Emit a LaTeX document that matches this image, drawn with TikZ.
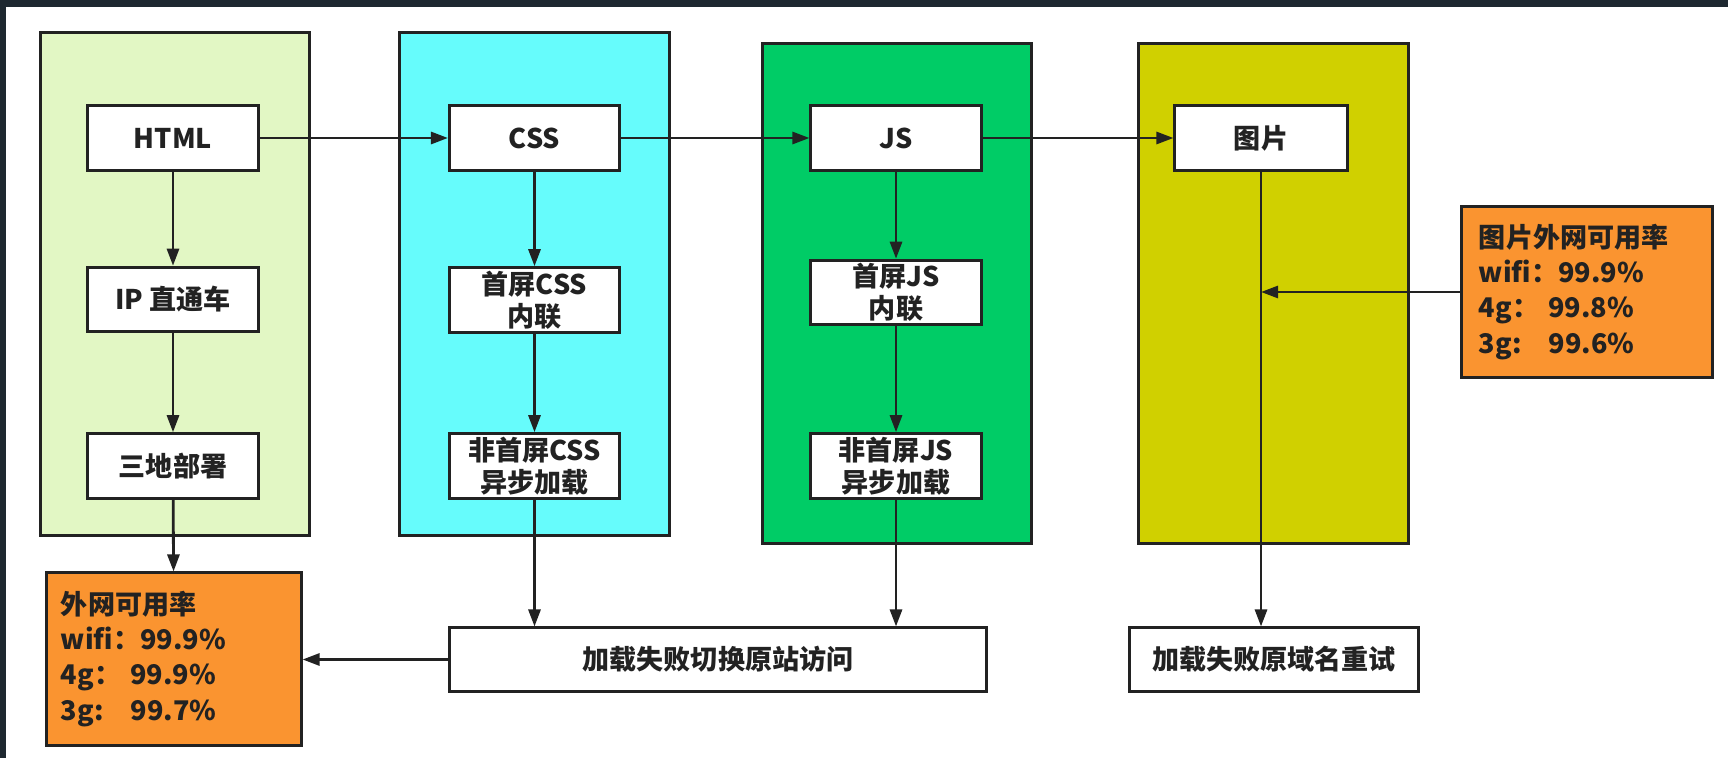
\documentclass[tikz,border=0pt]{standalone}
\usepackage{fontspec}
\setmainfont{Noto Sans CJK SC}
\usetikzlibrary{arrows.meta}

\definecolor{frame}{HTML}{1E2830}
\definecolor{lime}{HTML}{E2F7C4}
\definecolor{aqua}{HTML}{66FCFC}
\definecolor{leaf}{HTML}{00CC66}
\definecolor{olive}{HTML}{D0D000}
\definecolor{amber}{HTML}{FA9430}
\definecolor{ink}{HTML}{222222}

\tikzset{
  lane/.style={draw=ink, line width=0.85pt, minimum width=2.68cm, minimum height=5.02cm, inner sep=0pt},
  stepbox/.style={draw=ink, fill=white, line width=0.85pt, minimum width=1.70cm, minimum height=0.645cm,
    inner sep=0pt, align=center, text=ink, font=\bfseries\fontsize{7.7}{9.2}\selectfont},
  widebox/.style={stepbox, minimum height=0.63cm},
  ratebox/.style={draw=ink, fill=amber, line width=0.85pt, inner sep=0pt, align=left, text=ink,
    font=\bfseries\fontsize{7.7}{10}\selectfont},
  flow/.style={draw=ink, line width=0.8pt, -{Triangle[length=0.17cm, width=0.12cm]}},
}

\begin{document}
\begin{tikzpicture}[x=0.01cm, y=-0.01cm]
  \useasboundingbox (0,0) rectangle (1728,758);
  \fill[white] (0,0) rectangle (1728,758);
  \fill[frame] (0,0) rectangle (1728,7);
  \fill[frame] (0,0) rectangle (6,758);

  % four lanes
  \node[lane, fill=lime] (laneA) at (175,284) {};
  \node[lane, fill=aqua, minimum width=2.69cm] (laneB) at (534.5,284) {};
  \node[lane, fill=leaf, minimum height=4.99cm] (laneC) at (897,293.5) {};
  \node[lane, fill=olive, minimum width=2.69cm, minimum height=4.99cm] (laneD) at (1273.5,293.5) {};

  % HTML lane
  \node[stepbox] (html) at (173,138) {HTML};
  \node[stepbox] (ip) at (173,299.5) {IP 直通车};
  \node[stepbox] (deploy) at (173,466) {三地部署};

  % CSS lane
  \node[stepbox] (css) at (534.5,138) {CSS};
  \node[stepbox] (cssfirst) at (534.5,300) {首屏CSS\\内联};
  \node[stepbox] (cssrest) at (534.5,466) {非首屏CSS\\异步加载};

  % JS lane
  \node[stepbox] (js) at (896,138) {JS};
  \node[stepbox] (jsfirst) at (896,292.5) {首屏JS\\内联};
  \node[stepbox] (jsrest) at (896,466) {非首屏JS\\异步加载};

  % image lane
  \node[stepbox, minimum width=1.72cm] (pic) at (1261,138) {图片};

  % fallbacks
  \node[widebox, minimum width=5.36cm] (switch) at (718,659.5) {加载失败切换原站访问};
  \node[widebox, minimum width=2.88cm] (retry) at (1274,659.5) {加载失败原域名重试};

  % availability figures
  \node[ratebox, minimum width=2.54cm, minimum height=1.72cm, text width=2.26cm] (rateA) at (174,659)
    {外网可用率\\wifi：99.9\%\\4g： 99.9\%\\3g:\ \ \ 99.7\%};
  \node[ratebox, minimum width=2.50cm, minimum height=1.70cm, text width=2.16cm] (rateB) at (1587,292)
    {图片外网可用率\\wifi：99.9\%\\4g： 99.8\%\\3g:\ \ \ 99.6\%};

  % main chain
  \draw[flow] (html) -- (css);
  \draw[flow] (css) -- (js);
  \draw[flow] (js) -- (pic);

  % vertical chains
  \draw[flow] (html) -- (ip);
  \draw[flow] (ip) -- (deploy);
  \draw[flow] (deploy) -- (rateA);
  \draw[flow] (css) -- (cssfirst);
  \draw[flow] (cssfirst) -- (cssrest);
  \draw[flow] (cssrest.south) -- (cssrest.south |- switch.north);
  \draw[flow] (js) -- (jsfirst);
  \draw[flow] (jsfirst) -- (jsrest);
  \draw[flow] (jsrest.south) -- (jsrest.south |- switch.north);
  \draw[flow] (pic.south) -- (pic.south |- retry.north);

  % side links
  \coordinate (join) at (pic.south |- rateB.west);
  \draw[flow] (rateB.west) -- (join);
  \draw[flow] (switch.west) -- (switch.west -| rateA.east);
\end{tikzpicture}
\end{document}
